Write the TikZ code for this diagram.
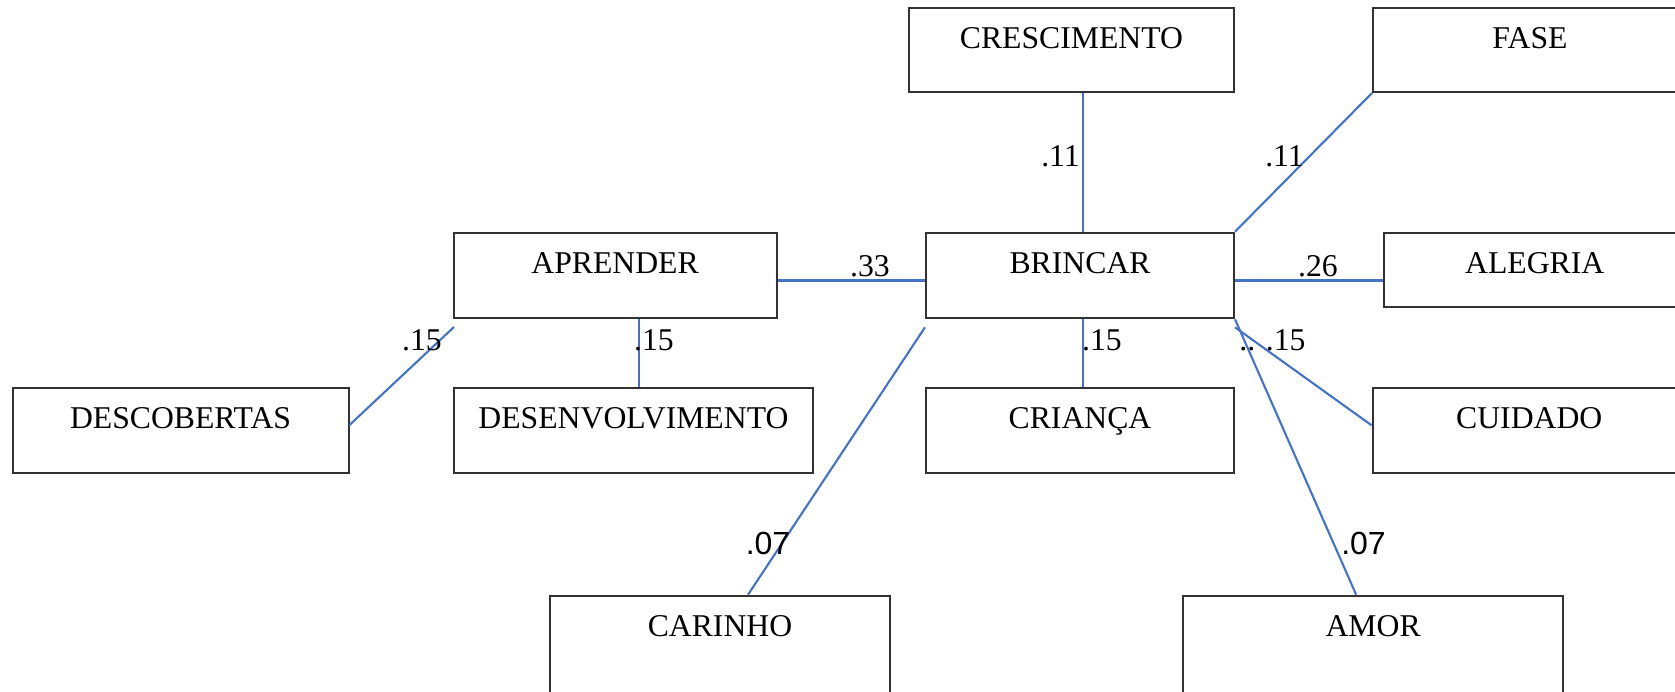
\documentclass[tikz,border=0pt]{standalone}
\usepackage{fontspec}
\setmainfont{Liberation Serif}
\newfontfamily\arialf{Liberation Sans}
\definecolor{linkblue}{RGB}{68,114,196}
\definecolor{boxline}{RGB}{50,50,50}
\begin{document}
\begin{tikzpicture}[x=0.5pt,y=-0.5pt,
  wbox/.style={draw=boxline,line width=1pt,inner sep=0pt,anchor=base,
    text height=20.25pt,font=\fontsize{15.85}{19}\selectfont},
  link/.style={draw=linkblue,line width=1.05pt},
  wlabel/.style={inner sep=0pt,anchor=base,font=\fontsize{15.85}{19}\selectfont},
  slabel/.style={inner sep=0pt,anchor=base,font=\arialf\fontsize{16}{19}\selectfont}]
\useasboundingbox (0,0) rectangle (1675,691);
\clip (0,0) rectangle (1675,691);
% boxes
\node[wbox,minimum width=162.5pt,text depth=21.75pt] (crescimento) at (1071.5,48.5) {CRESCIMENTO};
\node[wbox,minimum width=157pt,text depth=21.75pt] (fase) at (1530,48.5) {FASE};
\node[wbox,minimum width=161.6pt,text depth=22.55pt] (aprender) at (615.1,273.2) {APRENDER};
\node[wbox,minimum width=154pt,text depth=22.55pt] (brincar) at (1080,273.2) {BRINCAR};
\node[wbox,minimum width=151.25pt,text depth=16.75pt] (alegria) at (1534.75,273.2) {ALEGRIA};
\node[wbox,minimum width=167.95pt,text depth=22.55pt] (descobertas) at (180.55,428.2) {DESCOBERTAS};
\node[wbox,minimum width=179.95pt,text depth=22.55pt] (desenvolvimento) at (633.45,428.2) {DESENVOLVIMENTO};
\node[wbox,minimum width=154pt,text depth=22.55pt] (crianca) at (1080,428.2) {CRIANÇA};
\node[wbox,minimum width=156.75pt,text depth=22.3pt] (cuidado) at (1529.25,428.7) {CUIDADO};
\node[wbox,minimum width=170.3pt,text depth=40pt] (carinho) at (720,636.2) {CARINHO};
\node[wbox,minimum width=190.15pt,text depth=40pt] (amor) at (1373.15,636.2) {AMOR};
% helper coordinates
\coordinate (bN) at ([xshift=1.35pt]brincar.north);
\coordinate (bE) at ([yshift=-2.5pt]brincar.east);
\coordinate (aE) at ([yshift=-2.5pt]aprender.east);
\coordinate (dN) at ([xshift=2.75pt]desenvolvimento.north);
\coordinate (cN) at ([xshift=1.5pt]crianca.north);
% connectors
\draw[link] (crescimento.south -| bN) -- (bN);
\draw[link] (brincar.north east) -- (fase.south west);
\draw[link] (aE) -- (aE -| brincar.west);
\draw[link] (bE) -- (bE -| alegria.west);
\draw[link] ([yshift=2.75pt]descobertas.east) -- ([xshift=0.75pt,yshift=-3.85pt]aprender.south west);
\draw[link] (aprender.south -| dN) -- (dN);
\draw[link] (brincar.south -| cN) -- (cN);
\draw[link] ([yshift=-4pt]brincar.south west) -- ([xshift=14pt]carinho.north);
\draw[link] (brincar.south east) -- ([xshift=-8.5pt]amor.north);
\draw[link] ([yshift=-4pt]brincar.south east) -- ([yshift=2.75pt]cuidado.west);
% labels
\node[wlabel] (l1) at (1060.5,166) {.11};
\node[wlabel] (l2) at (1284.5,166) {.11};
\node[wlabel] (l3) at (870,276) {.33};
\node[wlabel] (l4) at (1318,276) {.26};
\node[wlabel] (l5) at (422,350) {.15};
\node[wlabel] (l6) at (654,350) {.15};
\node[wlabel] (l7) at (1102,350) {.15};
\node[wlabel] (l8) at (1272.5,350) {.. .15};
\node[slabel] (l9) at (768,554) {.07};
\node[slabel] (l10) at (1363.5,554) {.07};
\end{tikzpicture}
\end{document}
